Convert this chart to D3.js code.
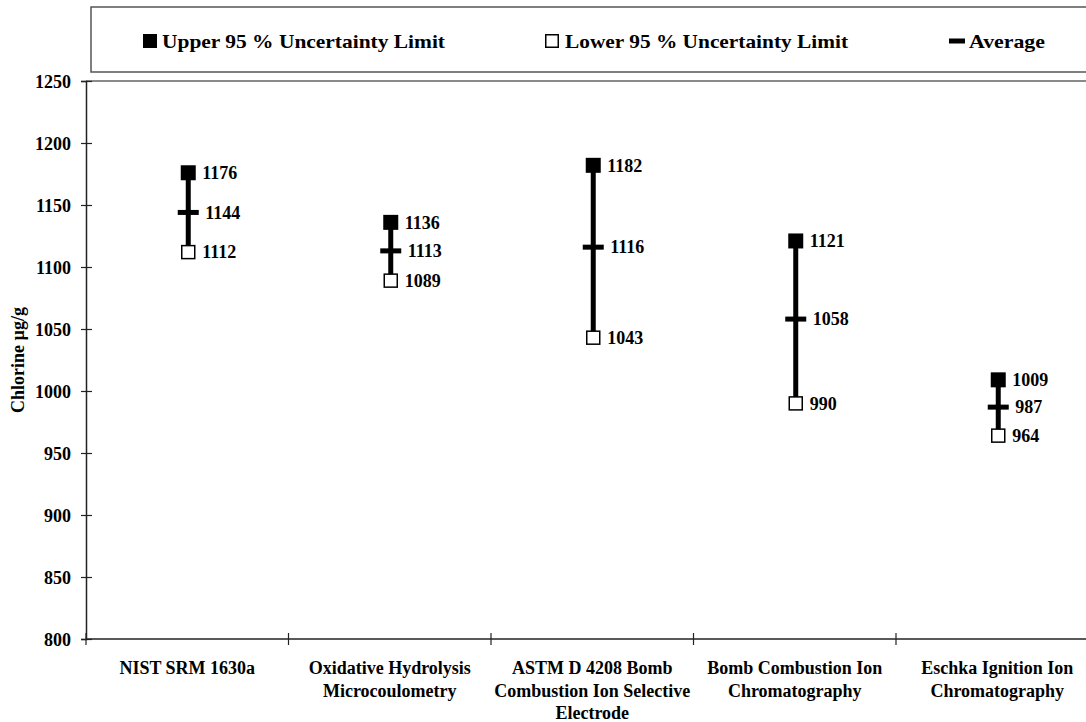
<!DOCTYPE html>
<html>
<head>
<meta charset="utf-8">
<script src="https://cdn.jsdelivr.net/npm/d3@7"></script>
<style>
  body { margin: 0; background: #fff; }
  svg text { font-family: "Liberation Serif", "Times New Roman", serif; font-weight: bold; fill: #000; }
</style>
</head>
<body>
<svg id="chart" width="1086" height="722"></svg>
<script>
// chart values
const categories = ['NIST SRM 1630a', 'Oxidative Hydrolysis Microcoulometry', 'ASTM D 4208 Bomb Combustion Ion Selective Electrode', 'Bomb Combustion Ion Chromatography', 'Eschka Ignition Ion Chromatography']
const categoryLines = [
    ['NIST SRM 1630a'],
    ['Oxidative Hydrolysis', 'Microcoulometry'],
    ['ASTM D 4208 Bomb', 'Combustion Ion Selective', 'Electrode'],
    ['Bomb Combustion Ion', 'Chromatography'],
    ['Eschka Ignition Ion', 'Chromatography']
]
const upper = [1176, 1136, 1182, 1121, 1009]
const average = [1144, 1113, 1116, 1058, 987]
const lower = [1112, 1089, 1043, 990, 964]
const yTicks = [800, 850, 900, 950, 1000, 1050, 1100, 1150, 1200, 1250]
const legendLabels = ['Upper 95 % Uncertainty Limit', 'Lower 95 % Uncertainty Limit', 'Average']

const svg = d3.select('#chart')
const plotLeft = 86, plotTop = 81, plotBottom = 639, plotW = 1012.5

const x = d3.scaleBand()
    .domain(categories)
    .range([plotLeft, plotLeft + plotW])
const y = d3.scaleLinear()
    .domain([800, 1250])
    .range([plotBottom, plotTop])

// legend box
svg.append('rect')
    .attr('x', 91).attr('y', 7)
    .attr('width', 1100).attr('height', 65)
    .attr('fill', '#fff')
    .attr('stroke', '#555')
    .attr('stroke-width', 1.5)

const legendX = [143, 545, 949]
const legend = svg.selectAll('.legendItem')
    .data(legendLabels)
    .join('g')
    .attr('class', 'legendItem')
    .attr('transform', (d, i) => `translate(${legendX[i]},41)`)
legend.each(function(d, i) {
    const g = d3.select(this)
    if (i === 0) {
        g.append('rect').attr('x', 0).attr('y', -7).attr('width', 14).attr('height', 14).attr('fill', '#000')
    } else if (i === 1) {
        g.append('rect').attr('x', 0.75).attr('y', -6.25).attr('width', 12.5).attr('height', 12.5)
            .attr('fill', '#fff').attr('stroke', '#000').attr('stroke-width', 1.5)
    } else {
        g.append('rect').attr('x', 0).attr('y', -2.5).attr('width', 16).attr('height', 5).attr('fill', '#000')
    }
})
const legendTextX = [19, 20, 20]
const legendTextW = [283, 283, 76]
legend.append('text')
    .attr('x', (d, i) => legendTextX[i])
    .attr('y', 6.5)
    .attr('font-size', 19)
    .attr('textLength', (d, i) => legendTextW[i])
    .attr('lengthAdjust', 'spacingAndGlyphs')
    .text(d => d)

// plot top border
svg.append('line')
    .attr('x1', plotLeft).attr('x2', 1086)
    .attr('y1', plotTop).attr('y2', plotTop)
    .attr('stroke', '#8a8a8a')
    .attr('stroke-width', 2)

// y axis
const yAxis = svg.append('g')
    .attr('transform', `translate(${plotLeft},0)`)
    .call(d3.axisLeft(y).tickValues(yTicks).tickSize(5).tickPadding(10).tickFormat(d3.format('d')))
yAxis.select('.domain').attr('stroke', '#222').attr('stroke-width', 1.5)
yAxis.selectAll('.tick line').attr('x1', 6).attr('stroke', '#222').attr('stroke-width', 1.2)
yAxis.selectAll('.tick text')
    .attr('font-size', 18)
    .attr('dy', '0.34em')

// x axis line with ticks at band edges
svg.append('line')
    .attr('x1', plotLeft).attr('x2', 1086)
    .attr('y1', plotBottom).attr('y2', plotBottom)
    .attr('stroke', '#222')
    .attr('stroke-width', 1.5)
const edges = categories.map(c => x(c)).concat([x(categories[categories.length - 1]) + x.bandwidth()])
svg.selectAll('.xTick')
    .data(edges)
    .join('line')
    .attr('class', 'xTick')
    .attr('x1', d => d).attr('x2', d => d)
    .attr('y1', plotBottom - 6).attr('y2', plotBottom + 6)
    .attr('stroke', '#222')
    .attr('stroke-width', 1.2)

svg.selectAll('.xLabel')
    .data(categories)
    .join('text')
    .attr('class', 'xLabel')
    .attr('text-anchor', 'middle')
    .attr('font-size', 18)
    .attr('y', 674)
    .each(function(d, i) {
        d3.select(this).selectAll('tspan')
            .data(categoryLines[i])
            .join('tspan')
            .attr('x', x(d) + x.bandwidth() / 2)
            .attr('dy', (t, j) => j === 0 ? 0 : 22.5)
            .text(t => t)
    })

// y axis title
svg.append('text')
    .attr('transform', `translate(24,${(plotTop + plotBottom) / 2}) rotate(-90)`)
    .attr('text-anchor', 'middle')
    .attr('font-size', 18)
    .text('Chlorine µg/g')

// ranges
const rows = categories.map((c, i) => ({cat: c, hi: upper[i], avg: average[i], lo: lower[i]}))
const cx = d => x(d.cat) + x.bandwidth() / 2 + 1

const marks = svg.selectAll('.range')
    .data(rows)
    .join('g')
    .attr('class', 'range')

marks.append('line')
    .attr('x1', cx).attr('x2', cx)
    .attr('y1', d => y(d.hi)).attr('y2', d => y(d.lo))
    .attr('stroke', '#000')
    .attr('stroke-width', 5)

marks.append('rect')
    .attr('x', d => cx(d) - 10.5)
    .attr('y', d => y(d.avg) - 2.5)
    .attr('width', 21).attr('height', 5)
    .attr('fill', '#000')

marks.append('rect')
    .attr('x', d => cx(d) - 7.5)
    .attr('y', d => y(d.hi) - 7.5)
    .attr('width', 15).attr('height', 15)
    .attr('fill', '#000')

marks.append('rect')
    .attr('x', d => cx(d) - 6.5)
    .attr('y', d => y(d.lo) - 6.5)
    .attr('width', 13).attr('height', 13)
    .attr('fill', '#fff')
    .attr('stroke', '#000')
    .attr('stroke-width', 1.5)

const valueLabel = (key, dx) => {
    marks.append('text')
        .attr('x', d => cx(d) + dx)
        .attr('y', d => y(d[key]))
        .attr('dy', '0.35em')
        .attr('font-size', 18)
        .text(d => d[key])
}
valueLabel('hi', 14)
valueLabel('avg', 17)
valueLabel('lo', 14)
</script>
</body>
</html>
